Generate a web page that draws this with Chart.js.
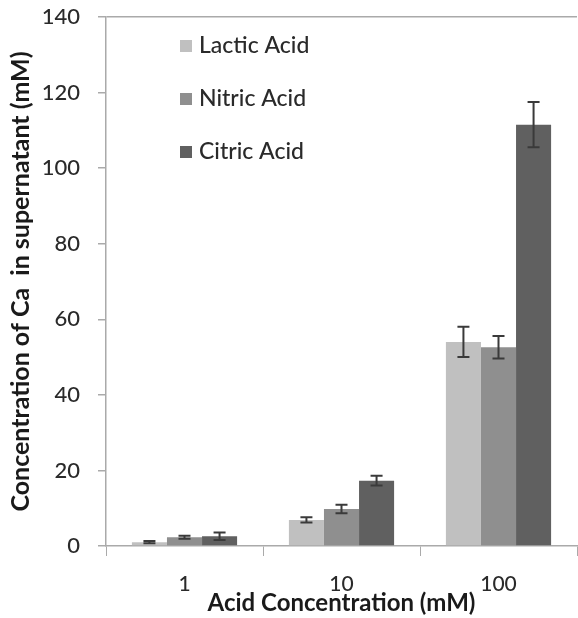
<!DOCTYPE html>
<html>
<head>
<meta charset="utf-8">
<script src="https://cdn.jsdelivr.net/npm/chart.js@4/dist/chart.umd.min.js"></script>
<style>
  html, body { margin: 0; padding: 0; background: #fff; }
  #wrap { width: 578px; height: 618px; }
</style>
</head>
<body>
<div id="wrap"><canvas id="c" width="578" height="618"></canvas></div>
<script>
const categories = ['1', '10', '100'];
const seriesNames = ['Lactic Acid', 'Nitric Acid', 'Citric Acid'];
const lactic = [1.0, 6.9, 54.0];
const nitric = [2.3, 9.8, 52.6];
const citric = [2.6, 17.3, 111.5];
const lacticErr = [0.3, 0.7, 4.0];
const nitricErr = [0.4, 1.1, 3.0];
const citricErr = [1.0, 1.3, 6.0];
const yTicks = [0, 20, 40, 60, 80, 100, 120, 140];

const colors = ['#c0c0c0', '#8f8f8f', '#606060'];
const FONT = 'Lato, "Open Sans", sans-serif';

// error bars drawn through the y scale
const errorBars = {
  id: 'errorBars',
  afterDatasetsDraw(chart) {
    const { ctx } = chart;
    const y = chart.scales.y;
    ctx.save();
    ctx.strokeStyle = '#3a3a3a';
    ctx.lineWidth = 2;
    chart.data.datasets.forEach((ds, i) => {
      const meta = chart.getDatasetMeta(i);
      meta.data.forEach((bar, j) => {
        const v = ds.data[j], e = ds.err[j];
        const top = y.getPixelForValue(v + e), bot = y.getPixelForValue(v - e);
        const x = bar.x, cap = 6;
        ctx.beginPath();
        ctx.moveTo(x, top); ctx.lineTo(x, bot);
        ctx.moveTo(x - cap, top); ctx.lineTo(x + cap, top);
        ctx.moveTo(x - cap, bot); ctx.lineTo(x + cap, bot);
        ctx.stroke();
      });
    });
    ctx.restore();
  }
};

// legend stacked inside the plot, top left
const insideLegend = {
  id: 'insideLegend',
  afterDraw(chart) {
    const { ctx, chartArea } = chart;
    ctx.save();
    ctx.font = '500 23px ' + FONT;
    ctx.textBaseline = 'middle';
    chart.data.datasets.forEach((ds, i) => {
      const ly = chartArea.top + 29 + i * 53;
      const lx = chartArea.left + 74;
      ctx.fillStyle = ds.backgroundColor;
      ctx.fillRect(lx, ly - 6, 12, 12);
      ctx.fillStyle = '#2a2a2a';
      ctx.fillText(ds.label, lx + 19, ly);
    });
    ctx.restore();
  }
};

new Chart(document.getElementById('c'), {
  type: 'bar',
  data: {
    labels: categories,
    datasets: [
      { label: seriesNames[0], data: lactic, err: lacticErr, backgroundColor: colors[0] },
      { label: seriesNames[1], data: nitric, err: nitricErr, backgroundColor: colors[1] },
      { label: seriesNames[2], data: citric, err: citricErr, backgroundColor: colors[2] }
    ]
  },
  options: {
    responsive: false,
    animation: false,
    layout: { padding: { top: 17, right: 1, left: 0, bottom: 0 } },
    categoryPercentage: 0.67,
    barPercentage: 1.0,
    plugins: { legend: { display: false }, tooltip: { enabled: false } },
    scales: {
      x: {
        grid: { offset: true, drawOnChartArea: false, color: '#aaa', tickColor: '#aaa', tickLength: 10 },
        border: { color: '#aaa', width: 1.5 },
        ticks: { color: '#2a2a2a', font: { family: FONT, size: 21, weight: '500' }, padding: 16 },
        title: { display: true, text: 'Acid Concentration (mM)', color: '#1a1a1a', font: { family: FONT, size: 24, weight: 'bold' }, padding: { top: -12, bottom: 0 } },
        afterFit(scale) { scale.height = 72; scale.paddingLeft = 0; scale.paddingRight = 0; }
      },
      y: {
        min: 0, max: 140,
        afterBuildTicks(scale) { scale.ticks = yTicks.map(v => ({ value: v })); },
        grid: {
          color: ctx => ctx.tick && ctx.tick.value === 140 ? '#aaa' : 'rgba(0,0,0,0)',
          tickColor: '#aaa', tickLength: 8, lineWidth: 1.5
        },
        border: { color: '#aaa', width: 1.5 },
        ticks: { color: '#2a2a2a', font: { family: FONT, size: 22, weight: '500' }, padding: 18 },
        title: { display: true, text: 'Concentration of Ca  in supernatant (mM)', color: '#1a1a1a', font: { family: FONT, size: 25, weight: 'bold' }, padding: { top: 6, bottom: 0 } },
        afterFit(scale) { scale.width = 106; scale.paddingTop = 0; scale.paddingBottom = 0; }
      }
    }
  },
  plugins: [errorBars, insideLegend]
});
</script>
</body>
</html>
